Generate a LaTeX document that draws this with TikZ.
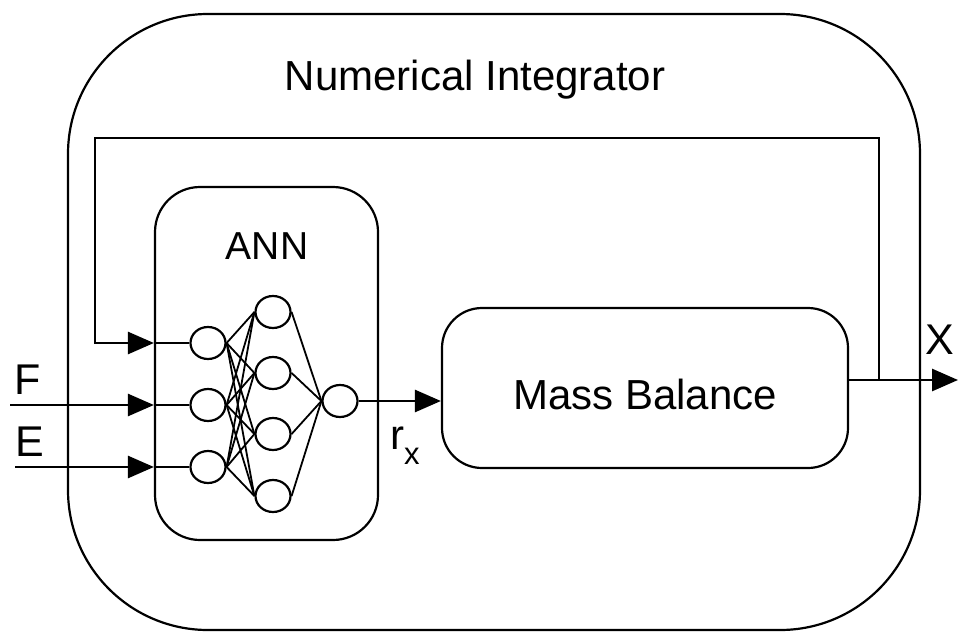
\documentclass[tikz,border=0pt]{standalone}
\usepackage{fontspec}
\setmainfont{Liberation Sans}
\usetikzlibrary{arrows.meta,shapes.geometric,calc}
\begin{document}
\begin{tikzpicture}[x=1pt,y=-1pt,
  box/.style={draw,line width=2.2pt},
  neuron/.style={draw,ellipse,line width=2.2pt,minimum width=35pt,minimum height=32pt,inner sep=0pt},
  syn/.style={line width=1.8pt},
  sig/.style={line width=2.8pt},
  arr/.style={line width=2.8pt,-{Triangle[length=26pt,width=22pt]}},
  lbl/.style={inner sep=0pt,font=\fontsize{43}{45}\selectfont}]
\useasboundingbox (0,0) rectangle (958,634);
% outer
\node[box,rounded corners=140pt,minimum width=852pt,minimum height=616pt] (outer) at (494,322) {};
\node[inner sep=0pt,font=\fontsize{42}{44}\selectfont] (title) at (475,80) {Numerical Integrator};
% ANN box
\node[box,rounded corners=45pt,minimum width=223pt,minimum height=353pt] (ann) at (266.5,363.5) {};
\node[inner sep=0pt,font=\fontsize{39}{41}\selectfont] (annlbl) at (267,246) {ANN};
% mass balance
\node[box,rounded corners=40pt,minimum width=406pt,minimum height=160pt] (mb) at (645,388) {};
\node[inner sep=0pt,font=\fontsize{42}{44}\selectfont] (mblbl) at (645,394) {Mass Balance};
% neurons
\node[neuron] (i1) at (208,343) {};
\node[neuron] (i2) at (208,405) {};
\node[neuron] (i3) at (208,467) {};
\node[neuron] (h1) at (273,312) {};
\node[neuron] (h2) at (273,373) {};
\node[neuron] (h3) at (273,434) {};
\node[neuron] (h4) at (273,496) {};
\node[neuron] (o1) at (340,401) {};
\foreach \i in {i1,i2,i3}{\foreach \h in {h1,h2,h3,h4}{\draw[syn] (\i.east) -- (\h.west);}}
\foreach \h in {h1,h2,h3,h4}{\draw[syn] (\h.east) -- (o1.west);}
% output of ANN
\draw[arr] (o1) -- (mb.west |- o1);
\node[inner sep=0pt,font=\fontsize{42}{44}\selectfont] (rx) at (405,446) {r\raisebox{-0.35em}{\fontsize{31}{33}\selectfont x}};
% inputs
\coordinate (Fin) at (10,405);
\coordinate (Ein) at (15,467);
\draw[arr] (Fin) -- (ann.west |- i2);
\draw[arr] (Ein) -- (ann.west |- i3);
\draw[sig] (ann.west |- i2) -- (i2);
\draw[sig] (ann.west |- i3) -- (i3);
\node[lbl] (F) at (28,380) {F};
\node[lbl] (E) at (30,442) {E};
% output X
\coordinate (Xout) at (958,380);
\coordinate (fb) at (879,380);
\draw[arr] (mb.east |- Xout) -- (Xout);
\node[lbl] (X) at (940,340) {X};
% feedback
\coordinate (fbtop) at (879,138);
\coordinate (fbleft) at (95,138);
\draw[arr] (fb) -- (fbtop) -- (fbleft) |- (ann.west |- i1);
\draw[sig] (ann.west |- i1) -- (i1);
\end{tikzpicture}
\end{document}
